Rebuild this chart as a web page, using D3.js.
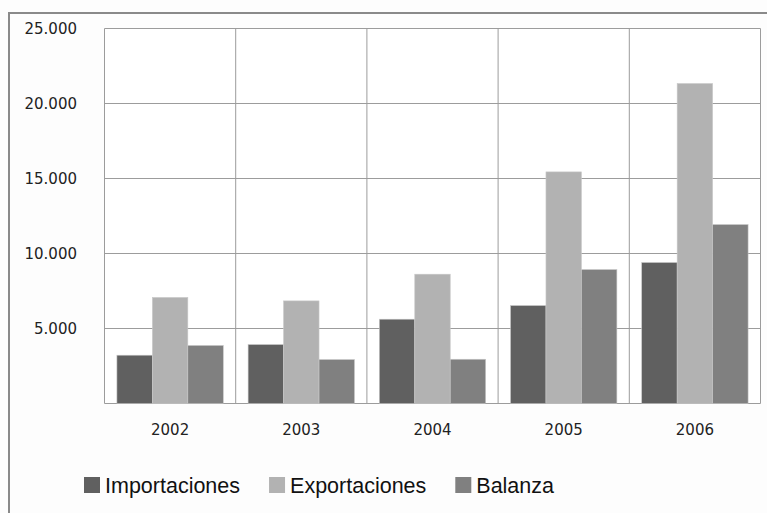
<!DOCTYPE html>
<html lang="es">
<head>
    <meta charset="utf-8">
    <title>Importaciones / Exportaciones / Balanza</title>
    <style>
        body { margin: 0; background: #fdfdfd; }
        svg { display: block; }
        .tick-label { font-family: "DejaVu Sans", Verdana, sans-serif; font-size: 15px; fill: #222; }
        .legend-label { font-family: "Liberation Sans", Arial, sans-serif; font-size: 21.5px; fill: #111; }
    </style>
</head>
<body>
    <div id="container"></div>

    <script src="https://cdn.jsdelivr.net/npm/d3@7"></script>
    <script>
        // Data
        const years = ["2002", "2003", "2004", "2005", "2006"];
        const series = ["Importaciones", "Exportaciones", "Balanza"];
        const importaciones = [3220, 3930, 5620, 6530, 9400];
        const exportaciones = [7070, 6840, 8620, 15440, 21330];
        const balanza = [3870, 2930, 2950, 8930, 11930];
        const yTicks = [5000, 10000, 15000, 20000, 25000];
        const yTickLabels = ["5.000", "10.000", "15.000", "20.000", "25.000"];

        const colors = {
            "Importaciones": "#606060",
            "Exportaciones": "#b2b2b2",
            "Balanza": "#808080"
        };

        // Chart dimensions
        const width = 767;
        const height = 513;
        const plotLeft = 104.5;
        const plotRight = 760.5;
        const plotTop = 28.5;
        const plotBottom = 403.5;

        const svg = d3.select("#container").append("svg")
            .attr("width", width)
            .attr("height", height);

        // Outer frame (only left and top visible)
        svg.append("rect")
            .attr("x", 9)
            .attr("y", 13)
            .attr("width", 780)
            .attr("height", 540)
            .attr("fill", "#fdfdfd")
            .attr("stroke", "#8a8a8a")
            .attr("stroke-width", 2);

        const values = years.map((yr, i) => ({
            year: yr,
            Importaciones: importaciones[i],
            Exportaciones: exportaciones[i],
            Balanza: balanza[i]
        }));

        // Scales
        const x = d3.scaleBand()
            .domain(years)
            .range([plotLeft, plotRight])
            .padding(0);

        const x1 = d3.scaleBand()
            .domain(series)
            .range([0, x.bandwidth()])
            .paddingInner(0)
            .paddingOuter(0.35);

        const y = d3.scaleLinear()
            .domain([0, 25000])
            .range([plotBottom, plotTop]);

        // Plot background
        svg.append("rect")
            .attr("x", plotLeft)
            .attr("y", plotTop)
            .attr("width", plotRight - plotLeft)
            .attr("height", plotBottom - plotTop)
            .attr("fill", "#ffffff");

        // Horizontal grid lines
        svg.append("g")
            .selectAll("line")
            .data([0].concat(yTicks))
            .enter().append("line")
            .attr("x1", plotLeft)
            .attr("x2", plotRight)
            .attr("y1", d => y(d))
            .attr("y2", d => y(d))
            .attr("stroke", "#9c9c9c")
            .attr("stroke-width", 1);

        // Vertical grid lines at category boundaries
        const bounds = years.map(d => x(d)).concat([x(years[years.length - 1]) + x.bandwidth()]);
        svg.append("g")
            .selectAll("line")
            .data(bounds)
            .enter().append("line")
            .attr("x1", d => d)
            .attr("x2", d => d)
            .attr("y1", plotTop)
            .attr("y2", plotBottom)
            .attr("stroke", "#9c9c9c")
            .attr("stroke-width", 1);

        // Y tick labels
        svg.append("g")
            .selectAll("text")
            .data(yTicks)
            .enter().append("text")
            .attr("class", "tick-label")
            .attr("x", 77)
            .attr("y", d => y(d))
            .attr("dy", "0.36em")
            .attr("text-anchor", "end")
            .text((d, i) => yTickLabels[i]);

        // X labels
        svg.append("g")
            .selectAll("text")
            .data(years)
            .enter().append("text")
            .attr("class", "tick-label")
            .attr("x", d => x(d) + x.bandwidth() / 2)
            .attr("y", 430)
            .attr("dy", "0.36em")
            .attr("text-anchor", "middle")
            .text(d => d);

        // Bars
        const groups = svg.append("g")
            .selectAll("g")
            .data(values)
            .enter().append("g")
            .attr("transform", d => `translate(${x(d.year)},0)`);

        groups.selectAll("rect")
            .data(d => series.map(s => ({ key: s, value: d[s] })))
            .enter().append("rect")
            .attr("x", d => x1(d.key))
            .attr("y", d => y(d.value))
            .attr("width", x1.bandwidth())
            .attr("height", d => y(0) - y(d.value))
            .attr("fill", d => colors[d.key])
            .attr("stroke", "#c8c8c8")
            .attr("stroke-width", 0.6);

        // Legend
        const legend = svg.append("g").attr("transform", "translate(84,485)");
        let lx = 0;
        series.forEach(s => {
            const item = legend.append("g").attr("transform", `translate(${lx},0)`);
            item.append("rect")
                .attr("x", 0)
                .attr("y", -8)
                .attr("width", 16)
                .attr("height", 16)
                .attr("fill", colors[s]);
            const t = item.append("text")
                .attr("class", "legend-label")
                .attr("x", 21)
                .attr("y", 0)
                .attr("dy", "0.36em")
                .text(s);
            lx += 21 + t.node().getComputedTextLength() + 29;
        });
    </script>
</body>
</html>
